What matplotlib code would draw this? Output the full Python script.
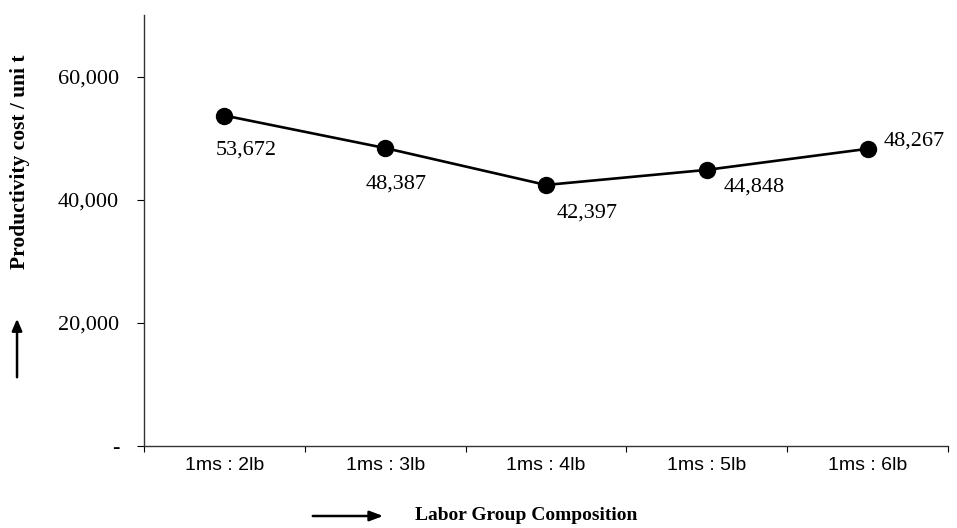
import matplotlib
matplotlib.use("Agg")
import matplotlib.pyplot as plt
from matplotlib.patches import FancyArrowPatch
from matplotlib.ticker import FixedLocator, FuncFormatter

# Labour group compositions and their productivity cost per unit
categories = ["1ms : 2lb", "1ms : 3lb", "1ms : 4lb", "1ms : 5lb", "1ms : 6lb"]
cost_per_unit = [53672, 48387, 42397, 44848, 48267]
value_labels = ["53,672", "48,387", "42,397", "44,848", "48,267"]
y_ticks = [0, 20000, 40000, 60000]

# label offsets from each marker, in pixels (dx, dy)
label_offsets = [(22, -35), (11, -36), (41, -28), (47, -17), (47, 8)]

serif = "Liberation Serif"
sans = "Liberation Sans"

fig = plt.figure(figsize=(9.57, 5.28), dpi=100)
ax = fig.add_axes([0.1505, 0.1553, 0.8401, 0.8163])

xs = [i + 0.5 for i in range(len(categories))]
ax.plot(xs, cost_per_unit, color="black", linewidth=1.9, marker="o",
        markersize=11.5, markerfacecolor="black", markeredgecolor="black",
        zorder=3)

for x, y, txt, (dx, dy) in zip(xs, cost_per_unit, value_labels, label_offsets):
    ax.annotate(txt, (x, y), xytext=(dx, dy), textcoords="offset pixels",
                ha="center", va="center", fontsize=16, family=serif,
                color="black")

ax.set_xlim(0, len(categories))
ax.set_ylim(0, 70000)

# y axis: ticks with thousands separators, zero shown as a dash
ax.yaxis.set_major_locator(FixedLocator(y_ticks))
ax.yaxis.set_major_formatter(FuncFormatter(
    lambda v, p: "-" if v == 0 else f"{int(v):,}"))
ax.tick_params(axis="y", direction="out", length=5, width=0.8, pad=13,
               labelsize=16)
for lab in ax.get_yticklabels():
    lab.set_family(serif)

# x axis: category names centred between boundary ticks
ax.set_xticks(xs)
ax.set_xticklabels(categories, family=sans, fontsize=14)
ax.set_xticks(range(len(categories) + 1), minor=True)
ax.tick_params(axis="x", which="major", length=0, pad=8)
ax.tick_params(axis="x", which="minor", direction="out", length=4, width=0.8)

for side in ("top", "right"):
    ax.spines[side].set_visible(False)
for side in ("left", "bottom"):
    ax.spines[side].set_color("#333333")
    ax.spines[side].set_linewidth(1.0)

# axis titles with direction arrows
fig.text(0.0205, 1 - 162 / 528, "Productivity cost / uni t", rotation=90,
         ha="center", va="center", family=serif, fontweight="bold",
         fontsize=15.5)
fig.add_artist(FancyArrowPatch(
    (0.0178, 1 - 380 / 528), (0.0178, 1 - 316 / 528),
    transform=fig.transFigure, arrowstyle="-|>,head_length=7,head_width=3",
    color="black", linewidth=1.8, mutation_scale=1))

fig.text(415 / 957, 1 - 516 / 528, "Labor Group Composition", ha="left",
         va="center", family=serif, fontweight="bold", fontsize=14)
fig.add_artist(FancyArrowPatch(
    (310 / 957, 1 - 516 / 528), (386 / 957, 1 - 516 / 528),
    transform=fig.transFigure, arrowstyle="-|>,head_length=8,head_width=3",
    color="black", linewidth=1.8, mutation_scale=1))

fig.savefig("out.png", dpi=100, facecolor="white")
